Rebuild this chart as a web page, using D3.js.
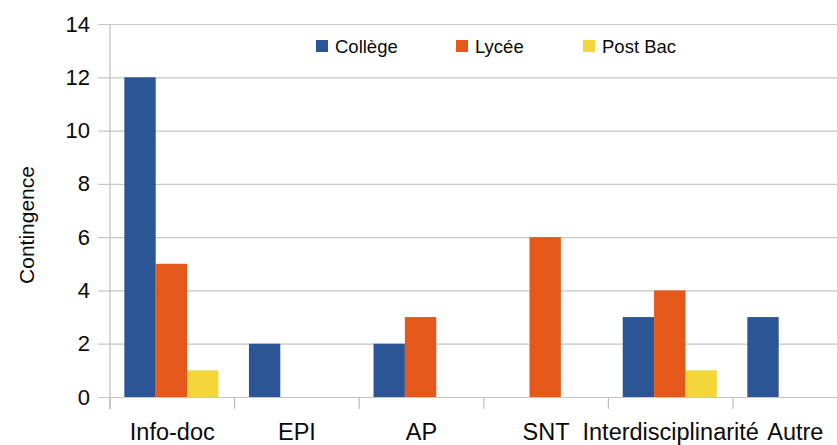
<!DOCTYPE html>
<html>
<head>
<meta charset="utf-8">
<script src="https://cdn.jsdelivr.net/npm/d3@7"></script>
<style>
  html, body { margin: 0; padding: 0; background: #fff; }
  svg { display: block; font-family: "Liberation Sans", Arial, sans-serif; }
</style>
</head>
<body>
<svg id="chart" width="837" height="445"></svg>
<script>
const categories = ["Info-doc", "EPI", "AP", "SNT", "Interdisciplinarité", "Autre"];
const seriesNames = ["Collège", "Lycée", "Post Bac"];
const college = [12, 2, 2, 0, 3, 3];
const lycee = [5, 0, 3, 6, 4, 0];
const postBac = [1, 0, 0, 0, 1, 0];
const yTicks = [0, 2, 4, 6, 8, 10, 12, 14];
const colors = ["#2c5595", "#e5581b", "#f3d63a"];

(function () {
const seriesValues = [college, lycee, postBac];
const svg = d3.select("#chart");

const mLeft = 110, mTop = 24, mBottom = 397;
const step = 124.6;
const x0 = d3.scaleBand().domain(categories).range([mLeft, mLeft + step * categories.length]).padding(0);
const x1 = d3.scaleBand().domain(seriesNames).range([x0.bandwidth() * 0.115, x0.bandwidth() * 0.87]).padding(0);
const y = d3.scaleLinear().domain([0, 14]).range([mBottom, mTop]);

// gridlines + y ticks
const yAxis = d3.axisLeft(y).tickValues(yTicks).tickSize(-(837 - mLeft)).tickSizeOuter(0).tickPadding(10);
const gy = svg.append("g").attr("transform", `translate(${mLeft},0)`).call(yAxis);
gy.select(".domain").remove();
gy.selectAll(".tick line").attr("stroke", "#c6c6c6").attr("stroke-width", 1.2).attr("x1", -12);
gy.selectAll(".tick text").attr("x", -20).attr("font-size", 22).attr("fill", "#0a0a0a").attr("font-family", "Liberation Sans, Arial, sans-serif");

// y axis line
svg.append("line").attr("x1", mLeft).attr("x2", mLeft).attr("y1", mTop).attr("y2", mBottom + 12)
  .attr("stroke", "#bdbdbd").attr("stroke-width", 1.2);

// x category separator ticks
const bounds = categories.map(c => x0(c));
svg.selectAll("line.sep").data(bounds).enter().append("line").attr("class", "sep")
  .attr("x1", d => d).attr("x2", d => d).attr("y1", mBottom).attr("y2", mBottom + 12)
  .attr("stroke", "#bdbdbd").attr("stroke-width", 1.2);

// bars
const groups = svg.append("g").selectAll("g").data(categories).enter().append("g")
  .attr("transform", c => `translate(${x0(c)},0)`);
groups.selectAll("rect").data((c, i) => seriesNames.map((s, j) => ({ s, j, v: seriesValues[j][i] })))
  .enter().append("rect")
  .attr("x", d => x1(d.s))
  .attr("width", x1.bandwidth())
  .attr("y", d => y(d.v))
  .attr("height", d => y(0) - y(d.v))
  .attr("fill", d => colors[d.j]);

// category labels
svg.append("g").selectAll("text").data(categories).enter().append("text")
  .attr("x", c => x0(c) + x0.bandwidth() / 2)
  .attr("y", 440)
  .attr("text-anchor", "middle")
  .attr("font-size", 23.5)
  .attr("fill", "#0a0a0a")
  .text(c => c);

// y axis title
svg.append("text")
  .attr("transform", "translate(34,225) rotate(-90)")
  .attr("text-anchor", "middle")
  .attr("font-size", 21)
  .attr("fill", "#0a0a0a")
  .text("Contingence");

// legend
const legendX = [316, 456, 583];
const lg = svg.append("g").selectAll("g").data(seriesNames).enter().append("g")
  .attr("transform", (d, i) => `translate(${legendX[i]},40)`);
lg.append("rect").attr("width", 12).attr("height", 12).attr("fill", (d, i) => colors[i]);
lg.append("text").attr("x", 19).attr("y", 12.5).attr("font-size", 18.5).attr("fill", "#0a0a0a").text(d => d);
})();
</script>
</body>
</html>
